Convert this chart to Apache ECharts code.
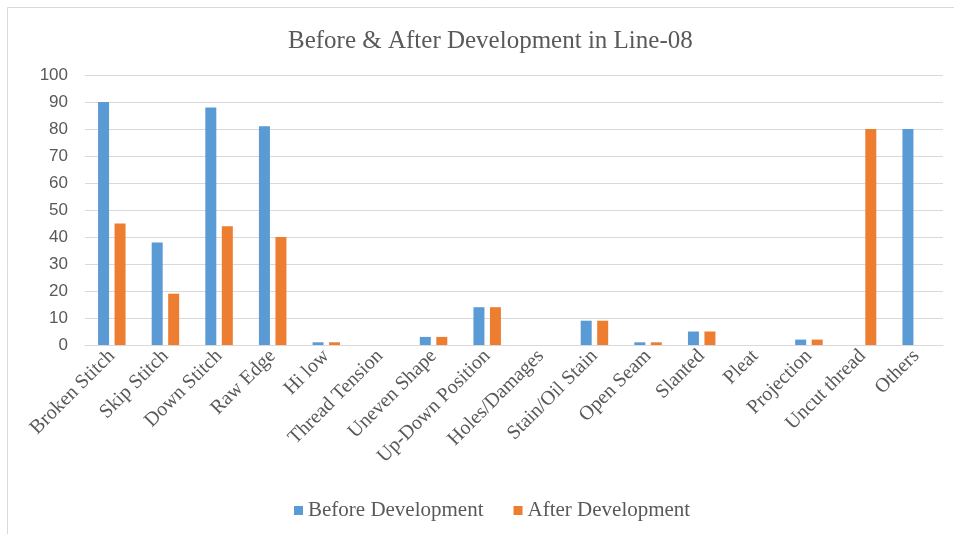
<!DOCTYPE html>
<html><head><meta charset="utf-8">
<script src="https://cdn.jsdelivr.net/npm/echarts@6/dist/echarts.min.js"></script>
<style>html,body{margin:0;padding:0;background:#fff}#c{width:954px;height:534px}</style>
</head><body><div id="c"></div>
<script>
const categories = ["Broken Stitch","Skip Stitch","Down Stitch","Raw Edge","Hi low","Thread Tension","Uneven Shape","Up-Down Position","Holes/Damages","Stain/Oil Stain","Open Seam","Slanted","Pleat","Projection","Uncut thread","Others"];
const beforeDev = [90,38,88,81,1,0,3,14,0,9,1,5,0,2,0,80];
const afterDev = [45,19,44,40,1,0,3,14,0,9,1,5,0,2,80,0];
const yTicks = {min:0,max:100,interval:10};

const chart = echarts.init(document.getElementById('c'));
chart.setOption({
  animation:false,
  backgroundColor:'#fff',
  title:{text:'Before & After Development in Line-08',left:283,top:24,
    textStyle:{fontFamily:'Liberation Serif',fontSize:25,fontWeight:'normal',color:'#595959'}},
  grid:{left:85,right:11,top:75,bottom:189},
  legend:{bottom:8,left:289,itemWidth:9,itemHeight:9,itemGap:30,icon:'rect',
    textStyle:{fontFamily:'Liberation Serif',fontSize:21,color:'#595959'},
    data:['Before Development','After Development']},
  xAxis:{type:'category',data:categories,
    axisLine:{lineStyle:{color:'#D9D9D9',width:1}},axisTick:{show:false},
    axisLabel:{rotate:45,interval:0,fontFamily:'Liberation Serif',fontSize:20,color:'#595959',margin:8}},
  yAxis:{type:'value',min:yTicks.min,max:yTicks.max,interval:yTicks.interval,
    axisLine:{show:false},axisTick:{show:false},
    splitLine:{lineStyle:{color:'#D9D9D9',width:1}},
    axisLabel:{fontFamily:'Liberation Sans',fontSize:17,color:'#595959',margin:17}},
  series:[
    {name:'Before Development',type:'bar',data:beforeDev,barWidth:11,barGap:'50%',itemStyle:{color:'#5B9BD5'}},
    {name:'After Development',type:'bar',data:afterDev,barWidth:11,barGap:'50%',itemStyle:{color:'#ED7D31'}}
  ],
  graphic:[
    {type:'line',shape:{x1:7.5,y1:7.5,x2:954,y2:7.5},style:{stroke:'#D9D9D9',lineWidth:1}},
    {type:'line',shape:{x1:7.5,y1:7.5,x2:7.5,y2:534},style:{stroke:'#D9D9D9',lineWidth:1}}
  ]
});
</script></body></html>
